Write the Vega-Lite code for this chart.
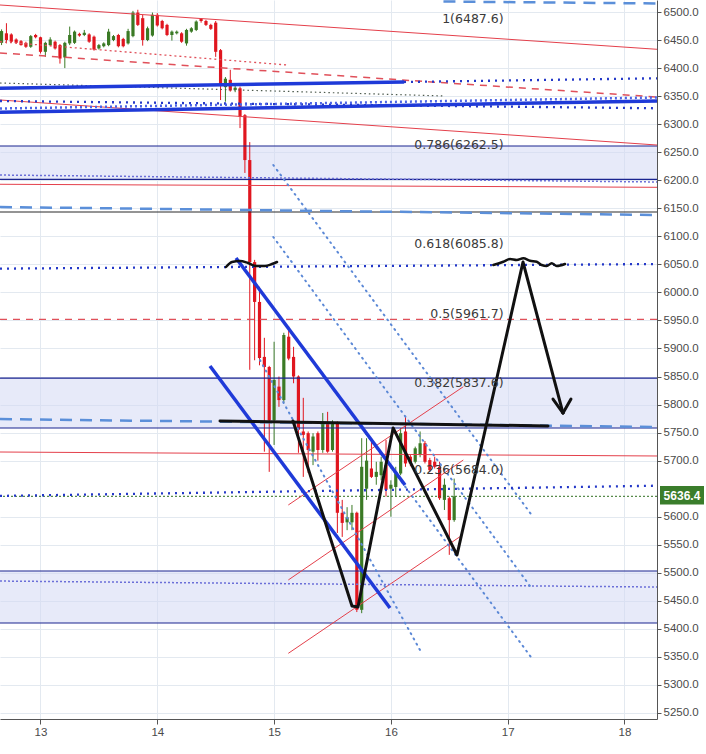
{
  "$schema": "https://vega.github.io/schema/vega-lite/v6.json",
  "width": 657,
  "height": 719,
  "autosize": {"type": "none"},
  "padding": {"left": 0, "top": 0, "right": 49, "bottom": 35},
  "background": "white",
  "config": {
    "view": {"stroke": null},
    "axis": {"labelOverlap": false, "labelFlush": false, "labelBound": false, "grid": true, "gridColor": "#e3e9f0", "tickColor": "#555", "domainColor": "#555", "labelColor": "#4a4a4a", "labelFontSize": 11.5, "labelFont": "Liberation Sans", "labelPadding": 2}
  },
  "datasets": {
    "candles": [
      {"t":12.6667,"o":6445,"h":6469,"l":6441,"c":6466},
      {"t":12.7083,"o":6462,"h":6480,"l":6444,"c":6450},
      {"t":12.75,"o":6460,"h":6462,"l":6445,"c":6447},
      {"t":12.7917,"o":6451,"h":6453,"l":6443,"c":6445},
      {"t":12.8333,"o":6448,"h":6450,"l":6440,"c":6441},
      {"t":12.875,"o":6445,"h":6447,"l":6436,"c":6438},
      {"t":12.9167,"o":6438,"h":6459,"l":6436,"c":6457},
      {"t":12.9583,"o":6459,"h":6461,"l":6453,"c":6455},
      {"t":13.0,"o":6455,"h":6456,"l":6426,"c":6429},
      {"t":13.0417,"o":6429,"h":6447,"l":6420,"c":6445},
      {"t":13.0833,"o":6441,"h":6455,"l":6439,"c":6451},
      {"t":13.125,"o":6447,"h":6449,"l":6433,"c":6435},
      {"t":13.1667,"o":6441,"h":6443,"l":6408,"c":6417},
      {"t":13.2083,"o":6419,"h":6447,"l":6400,"c":6445},
      {"t":13.25,"o":6444,"h":6474,"l":6441,"c":6459},
      {"t":13.2917,"o":6445,"h":6467,"l":6443,"c":6465},
      {"t":13.3333,"o":6461,"h":6463,"l":6456,"c":6458},
      {"t":13.375,"o":6459,"h":6468,"l":6457,"c":6463},
      {"t":13.4167,"o":6460,"h":6462,"l":6445,"c":6447},
      {"t":13.4583,"o":6456,"h":6458,"l":6431,"c":6433},
      {"t":13.5,"o":6435,"h":6443,"l":6433,"c":6441},
      {"t":13.5417,"o":6439,"h":6446,"l":6437,"c":6444},
      {"t":13.5833,"o":6441,"h":6470,"l":6439,"c":6465},
      {"t":13.625,"o":6450,"h":6459,"l":6448,"c":6457},
      {"t":13.6667,"o":6459,"h":6461,"l":6437,"c":6439},
      {"t":13.7083,"o":6452,"h":6454,"l":6437,"c":6439},
      {"t":13.75,"o":6444,"h":6470,"l":6442,"c":6466},
      {"t":13.7917,"o":6457,"h":6502,"l":6455,"c":6499},
      {"t":13.8333,"o":6499,"h":6504,"l":6475,"c":6477},
      {"t":13.875,"o":6489,"h":6495,"l":6440,"c":6450},
      {"t":13.9167,"o":6450,"h":6474,"l":6448,"c":6471},
      {"t":13.9583,"o":6458,"h":6499,"l":6456,"c":6495},
      {"t":14.0,"o":6495,"h":6498,"l":6474,"c":6476},
      {"t":14.0417,"o":6484,"h":6486,"l":6469,"c":6471},
      {"t":14.0833,"o":6477,"h":6479,"l":6457,"c":6459},
      {"t":14.125,"o":6459,"h":6467,"l":6449,"c":6465},
      {"t":14.1667,"o":6462,"h":6467,"l":6460,"c":6465},
      {"t":14.2083,"o":6462,"h":6464,"l":6445,"c":6447},
      {"t":14.25,"o":6444,"h":6470,"l":6440,"c":6468},
      {"t":14.2917,"o":6465,"h":6473,"l":6463,"c":6471},
      {"t":14.3333,"o":6468,"h":6485,"l":6466,"c":6483},
      {"t":14.375,"o":6488,"h":6489,"l":6481,"c":6484},
      {"t":14.4167,"o":6484,"h":6486,"l":6475,"c":6477},
      {"t":14.4583,"o":6477,"h":6479,"l":6468,"c":6470},
      {"t":14.5,"o":6481,"h":6484,"l":6420,"c":6429},
      {"t":14.5417,"o":6432,"h":6434,"l":6343,"c":6370},
      {"t":14.5833,"o":6366,"h":6384,"l":6340,"c":6381},
      {"t":14.625,"o":6379,"h":6397,"l":6358,"c":6360},
      {"t":14.6667,"o":6361,"h":6368,"l":6357,"c":6365},
      {"t":14.7083,"o":6364,"h":6367,"l":6293,"c":6313},
      {"t":14.75,"o":6316,"h":6318,"l":6213,"c":6236},
      {"t":14.7917,"o":6236,"h":6268,"l":5862,"c":6054},
      {"t":14.8333,"o":6054,"h":6058,"l":5879,"c":5983},
      {"t":14.875,"o":5983,"h":6010,"l":5870,"c":5883},
      {"t":14.9167,"o":5885,"h":5919,"l":5716,"c":5867},
      {"t":14.9583,"o":5867,"h":5869,"l":5680,"c":5772},
      {"t":15.0,"o":5772,"h":5912,"l":5728,"c":5844},
      {"t":15.0417,"o":5832,"h":5850,"l":5796,"c":5808},
      {"t":15.0833,"o":5808,"h":5928,"l":5803,"c":5924},
      {"t":15.125,"o":5921,"h":5939,"l":5879,"c":5882},
      {"t":15.1667,"o":5885,"h":5903,"l":5838,"c":5850},
      {"t":15.2083,"o":5850,"h":5852,"l":5714,"c":5755},
      {"t":15.25,"o":5752,"h":5812,"l":5671,"c":5746},
      {"t":15.2917,"o":5749,"h":5752,"l":5678,"c":5719},
      {"t":15.3333,"o":5716,"h":5749,"l":5692,"c":5743},
      {"t":15.375,"o":5749,"h":5752,"l":5700,"c":5719},
      {"t":15.4167,"o":5719,"h":5785,"l":5714,"c":5767},
      {"t":15.4583,"o":5767,"h":5787,"l":5714,"c":5716},
      {"t":15.5,"o":5719,"h":5772,"l":5716,"c":5767},
      {"t":15.5417,"o":5767,"h":5770,"l":5571,"c":5607},
      {"t":15.5833,"o":5607,"h":5630,"l":5564,"c":5589},
      {"t":15.625,"o":5590,"h":5617,"l":5576,"c":5599},
      {"t":15.6667,"o":5590,"h":5621,"l":5576,"c":5607},
      {"t":15.7083,"o":5607,"h":5609,"l":5430,"c":5434},
      {"t":15.75,"o":5434,"h":5740,"l":5428,"c":5689},
      {"t":15.7917,"o":5650,"h":5740,"l":5630,"c":5700},
      {"t":15.8333,"o":5686,"h":5737,"l":5669,"c":5671},
      {"t":15.875,"o":5671,"h":5698,"l":5657,"c":5680},
      {"t":15.9167,"o":5674,"h":5707,"l":5665,"c":5698},
      {"t":15.9583,"o":5692,"h":5737,"l":5636,"c":5648},
      {"t":16.0,"o":5650,"h":5665,"l":5600,"c":5657},
      {"t":16.0417,"o":5653,"h":5689,"l":5636,"c":5680},
      {"t":16.0833,"o":5677,"h":5758,"l":5674,"c":5749},
      {"t":16.125,"o":5752,"h":5778,"l":5689,"c":5695},
      {"t":16.1667,"o":5707,"h":5710,"l":5690,"c":5695},
      {"t":16.2083,"o":5698,"h":5725,"l":5695,"c":5722},
      {"t":16.25,"o":5710,"h":5752,"l":5706,"c":5731},
      {"t":16.2917,"o":5731,"h":5735,"l":5695,"c":5698},
      {"t":16.3333,"o":5701,"h":5705,"l":5680,"c":5683},
      {"t":16.375,"o":5698,"h":5707,"l":5686,"c":5689},
      {"t":16.4167,"o":5689,"h":5698,"l":5630,"c":5633},
      {"t":16.4583,"o":5630,"h":5668,"l":5612,"c":5657},
      {"t":16.5,"o":5633,"h":5636,"l":5532,"c":5594},
      {"t":16.5417,"o":5594,"h":5668,"l":5591,"c":5636.4}
    ],
    "bands": [
      {"lo":6201.7,"hi":6261.1},
      {"lo":5758.2,"hi":5847.3},
      {"lo":5410.5,"hi":5503.2}
    ],
    "navy": [{"p":6261.1},{"p":6201.7},{"p":5847.3},{"p":5758.2},{"p":5503.2},{"p":5410.5}],
    "blackRule": [{"p":6143.4}],
    "redDashRule": [{"p":5952}],
    "lastRule": [{"p":5636.4}],
    "redThin": [
      {"id":"top","t":12.6533,"p":6512.5},{"id":"top","t":18.2783,"p":6433.5},
      {"id":"bot","t":12.6533,"p":6343.1},{"id":"bot","t":18.2783,"p":6262.8},
      {"id":"a","t":12.6533,"p":6192.8},{"id":"a","t":18.2783,"p":6187.4},
      {"id":"m","t":12.6533,"p":5715.4},{"id":"m","t":18.2783,"p":5708.3},
      {"id":"r1","t":15.1216,"p":5620.9},{"id":"r1","t":16.6199,"p":5831.8},
      {"id":"r2","t":15.1216,"p":5487.2},{"id":"r2","t":16.6199,"p":5701.1},
      {"id":"r3","t":15.1216,"p":5356.4},{"id":"r3","t":16.5916,"p":5564.4}
    ],
    "redDash": [{"id":"d","t":12.6533,"p":6426.9},{"id":"d","t":18.2783,"p":6348.4}],
    "redDot": [{"id":"d","t":12.6533,"p":6447.0},{"id":"d","t":15.1105,"p":6405.5}],
    "blueThick": [
      {"id":"b1","t":14.6739,"p":6061.3},{"id":"b1","t":16.1208,"p":5656.5},
      {"id":"b2","t":14.4512,"p":5868.7},{"id":"b2","t":15.9923,"p":5437.2},
      {"id":"h1","t":12.6533,"p":6363.9},{"id":"h1","t":16.1122,"p":6375.2},
      {"id":"h2","t":12.6533,"p":6321.1},{"id":"h2","t":18.2783,"p":6341.3}
    ],
    "blueTicks": [{"id":"k","t":12.6533,"p":6327.9},{"id":"k","t":18.2783,"p":6347.5}],
    "blueDot": [
      {"id":"c","t":16.1122,"p":6375.2},{"id":"c","t":18.2783,"p":6381.8},
      {"id":"f","t":12.6533,"p":6042.4},{"id":"f","t":18.2783,"p":6050.6},
      {"id":"g","t":12.6533,"p":5637.1},{"id":"g","t":18.2783,"p":5655.3},
      {"id":"k","t":12.6533,"p":6341.3},{"id":"k","t":18.2783,"p":6328.3}
    ],
    "purpleDot": [
      {"id":"a","t":12.6533,"p":6209.3},{"id":"a","t":18.2783,"p":6196.9},
      {"id":"c","t":12.6533,"p":5485.3},{"id":"c","t":18.2783,"p":5474.6}
    ],
    "darkDot": [{"id":"d","t":12.6533,"p":6373.4},{"id":"d","t":16.4632,"p":6350.2}],
    "lightDash": [
      {"id":"top","t":16.45,"p":6518.7},{"id":"top","t":18.2783,"p":6515.2},
      {"id":"m","t":12.6533,"p":6152.3},{"id":"m","t":18.2783,"p":6138.0},
      {"id":"b","t":12.6533,"p":5774.2},{"id":"b","t":18.2783,"p":5760.0}
    ],
    "lightDot": [
      {"id":"d1","t":14.9932,"p":6227.2},{"id":"d1","t":17.2055,"p":5603.0},
      {"id":"d2","t":14.9932,"p":6098.8},{"id":"d2","t":17.191,"p":5476.4},
      {"id":"d3","t":14.8793,"p":5879.4},{"id":"d3","t":16.2492,"p":5362.3},
      {"id":"d4","t":14.9932,"p":5972.2},{"id":"d4","t":17.2055,"p":5348.0}
    ],
    "blackPen": [
      {"id":"h","t":14.5369,"p":5770.7},{"id":"h","t":17.3451,"p":5761.8},
      {"id":"z","t":15.1619,"p":5770.7},{"id":"z","t":15.667,"p":5440.8},{"id":"z","t":15.7184,"p":5439.0},{"id":"z","t":16.019,"p":5758.2},{"id":"z","t":16.566,"p":5531.7},{"id":"z","t":17.131,"p":6054.2},{"id":"z","t":17.4735,"p":5784.9},
      {"id":"w1","t":17.3879,"p":5809.9},{"id":"w1","t":17.4735,"p":5784.9},
      {"id":"w2","t":17.4735,"p":5784.9},{"id":"w2","t":17.542,"p":5809.9}
    ],
    "squiggle": [
      {"id":"s1","t":14.5883,"p":6045.3},{"id":"s1","t":14.6396,"p":6054.2},{"id":"s1","t":14.7081,"p":6056.0},{"id":"s1","t":14.7766,"p":6052.4},{"id":"s1","t":14.8451,"p":6047.1},{"id":"s1","t":14.9222,"p":6047.1},{"id":"s1","t":14.9821,"p":6050.6},{"id":"s1","t":15.0249,"p":6054.2},
      {"id":"s2","t":16.8768,"p":6048.9},{"id":"s2","t":16.9624,"p":6054.7},{"id":"s2","t":17.0198,"p":6059.5},{"id":"s2","t":17.0772,"p":6057.8},{"id":"s2","t":17.1337,"p":6060.8},{"id":"s2","t":17.191,"p":6056.5},{"id":"s2","t":17.2484,"p":6054.7},{"id":"s2","t":17.2912,"p":6048.9},{"id":"s2","t":17.334,"p":6047.1},{"id":"s2","t":17.3768,"p":6051.9},{"id":"s2","t":17.4196,"p":6047.1},{"id":"s2","t":17.4906,"p":6050.6}
    ],
    "fib": [
      {"label":"1(6487.6)","p":6487.6},
      {"label":"0.786(6262.5)","p":6262.5},
      {"label":"0.618(6085.8)","p":6085.8},
      {"label":"0.5(5961.7)","p":5961.7},
      {"label":"0.382(5837.6)","p":5837.6},
      {"label":"0.236(5684.0)","p":5684.0}
    ],
    "last": [{"p":5636.4}]
  },
  "layer": [
    {
      "data": {"name": "bands"},
      "mark": {"type": "rect", "fill": "#d4d8f4", "opacity": 0.55},
      "encoding": {
        "y": {"field": "lo", "type": "quantitative", "scale": {"domain": [5239.3, 6521.4], "nice": false, "zero": false}, "axis": {"orient": "right", "values": [5250,5300,5350,5400,5450,5500,5550,5600,5700,5750,5800,5850,5900,5950,6000,6050,6100,6150,6200,6250,6300,6350,6400,6450,6500], "format": ".1f", "title": null, "tickSize": 4, "labelOverlap": false}},
        "y2": {"field": "hi"}
      }
    },
    {
      "data": {"name": "candles"},
      "mark": {"type": "rule", "strokeWidth": 1},
      "encoding": {
        "x": {"field": "t", "type": "quantitative", "scale": {"domain": [12.6533, 18.2783], "nice": false, "zero": false}, "axis": {"orient": "bottom", "values": [13,14,15,16,17,18], "format": "d", "title": null, "tickSize": 5, "labelOverlap": false}},
        "y": {"field": "l", "type": "quantitative", "scale": {"domain": [5239.3, 6521.4], "nice": false, "zero": false}, "axis": {"orient": "right", "values": [5250,5300,5350,5400,5450,5500,5550,5600,5700,5750,5800,5850,5900,5950,6000,6050,6100,6150,6200,6250,6300,6350,6400,6450,6500], "format": ".1f", "title": null, "tickSize": 4, "labelOverlap": false}},
        "y2": {"field": "h"},
        "color": {"condition": {"test": "datum.c >= datum.o", "value": "#3b7a25"}, "value": "#e0161f"}
      }
    },
    {
      "data": {"name": "candles"},
      "mark": {"type": "rule", "strokeWidth": 3.2},
      "encoding": {
        "x": {"field": "t", "type": "quantitative", "axis": {"orient": "bottom", "values": [13,14,15,16,17,18], "format": "d", "title": null, "tickSize": 5, "labelOverlap": false}},
        "y": {"field": "o", "type": "quantitative", "axis": {"orient": "right", "values": [5250,5300,5350,5400,5450,5500,5550,5600,5700,5750,5800,5850,5900,5950,6000,6050,6100,6150,6200,6250,6300,6350,6400,6450,6500], "format": ".1f", "title": null, "tickSize": 4, "labelOverlap": false}},
        "y2": {"field": "c"},
        "color": {"condition": {"test": "datum.c >= datum.o", "value": "#3b7a25"}, "value": "#e0161f"}
      }
    },
    {
      "data": {"name": "navy"},
      "mark": {"type": "rule", "color": "#1b2590", "strokeWidth": 1.2},
      "encoding": {"y": {"field": "p", "type": "quantitative", "axis": {"orient": "right", "values": [5250,5300,5350,5400,5450,5500,5550,5600,5700,5750,5800,5850,5900,5950,6000,6050,6100,6150,6200,6250,6300,6350,6400,6450,6500], "format": ".1f", "title": null, "tickSize": 4, "labelOverlap": false}}}
    },
    {
      "data": {"name": "blackRule"},
      "mark": {"type": "rule", "color": "#2a2a2a", "strokeWidth": 1.2},
      "encoding": {"y": {"field": "p", "type": "quantitative", "axis": {"orient": "right", "values": [5250,5300,5350,5400,5450,5500,5550,5600,5700,5750,5800,5850,5900,5950,6000,6050,6100,6150,6200,6250,6300,6350,6400,6450,6500], "format": ".1f", "title": null, "tickSize": 4, "labelOverlap": false}}}
    },
    {
      "data": {"name": "redDashRule"},
      "mark": {"type": "rule", "color": "#e0505a", "strokeWidth": 1.3, "strokeDash": [7, 6]},
      "encoding": {"y": {"field": "p", "type": "quantitative", "axis": {"orient": "right", "values": [5250,5300,5350,5400,5450,5500,5550,5600,5700,5750,5800,5850,5900,5950,6000,6050,6100,6150,6200,6250,6300,6350,6400,6450,6500], "format": ".1f", "title": null, "tickSize": 4, "labelOverlap": false}}}
    },
    {
      "data": {"name": "lastRule"},
      "mark": {"type": "rule", "color": "#2f6e1f", "strokeWidth": 1, "strokeDash": [2, 2]},
      "encoding": {"y": {"field": "p", "type": "quantitative", "axis": {"orient": "right", "values": [5250,5300,5350,5400,5450,5500,5550,5600,5700,5750,5800,5850,5900,5950,6000,6050,6100,6150,6200,6250,6300,6350,6400,6450,6500], "format": ".1f", "title": null, "tickSize": 4, "labelOverlap": false}}}
    },
    {
      "data": {"name": "redThin"},
      "mark": {"type": "line", "color": "#e4404b", "strokeWidth": 1},
      "encoding": {"x": {"field": "t", "type": "quantitative", "axis": {"orient": "bottom", "values": [13,14,15,16,17,18], "format": "d", "title": null, "tickSize": 5, "labelOverlap": false}}, "y": {"field": "p", "type": "quantitative", "axis": {"orient": "right", "values": [5250,5300,5350,5400,5450,5500,5550,5600,5700,5750,5800,5850,5900,5950,6000,6050,6100,6150,6200,6250,6300,6350,6400,6450,6500], "format": ".1f", "title": null, "tickSize": 4, "labelOverlap": false}}, "detail": {"field": "id"}}
    },
    {
      "data": {"name": "redDash"},
      "mark": {"type": "line", "color": "#e0505a", "strokeWidth": 1.5, "strokeDash": [7, 6]},
      "encoding": {"x": {"field": "t", "type": "quantitative", "axis": {"orient": "bottom", "values": [13,14,15,16,17,18], "format": "d", "title": null, "tickSize": 5, "labelOverlap": false}}, "y": {"field": "p", "type": "quantitative", "axis": {"orient": "right", "values": [5250,5300,5350,5400,5450,5500,5550,5600,5700,5750,5800,5850,5900,5950,6000,6050,6100,6150,6200,6250,6300,6350,6400,6450,6500], "format": ".1f", "title": null, "tickSize": 4, "labelOverlap": false}}, "detail": {"field": "id"}}
    },
    {
      "data": {"name": "redDot"},
      "mark": {"type": "line", "color": "#e0505a", "strokeWidth": 1.3, "strokeDash": [2, 3]},
      "encoding": {"x": {"field": "t", "type": "quantitative", "axis": {"orient": "bottom", "values": [13,14,15,16,17,18], "format": "d", "title": null, "tickSize": 5, "labelOverlap": false}}, "y": {"field": "p", "type": "quantitative", "axis": {"orient": "right", "values": [5250,5300,5350,5400,5450,5500,5550,5600,5700,5750,5800,5850,5900,5950,6000,6050,6100,6150,6200,6250,6300,6350,6400,6450,6500], "format": ".1f", "title": null, "tickSize": 4, "labelOverlap": false}}, "detail": {"field": "id"}}
    },
    {
      "data": {"name": "darkDot"},
      "mark": {"type": "line", "color": "#4d5a4d", "strokeWidth": 1.2, "strokeDash": [1.5, 3]},
      "encoding": {"x": {"field": "t", "type": "quantitative", "axis": {"orient": "bottom", "values": [13,14,15,16,17,18], "format": "d", "title": null, "tickSize": 5, "labelOverlap": false}}, "y": {"field": "p", "type": "quantitative", "axis": {"orient": "right", "values": [5250,5300,5350,5400,5450,5500,5550,5600,5700,5750,5800,5850,5900,5950,6000,6050,6100,6150,6200,6250,6300,6350,6400,6450,6500], "format": ".1f", "title": null, "tickSize": 4, "labelOverlap": false}}, "detail": {"field": "id"}}
    },
    {
      "data": {"name": "purpleDot"},
      "mark": {"type": "line", "color": "#6b6fd8", "strokeWidth": 1.5, "strokeDash": [2, 2]},
      "encoding": {"x": {"field": "t", "type": "quantitative", "axis": {"orient": "bottom", "values": [13,14,15,16,17,18], "format": "d", "title": null, "tickSize": 5, "labelOverlap": false}}, "y": {"field": "p", "type": "quantitative", "axis": {"orient": "right", "values": [5250,5300,5350,5400,5450,5500,5550,5600,5700,5750,5800,5850,5900,5950,6000,6050,6100,6150,6200,6250,6300,6350,6400,6450,6500], "format": ".1f", "title": null, "tickSize": 4, "labelOverlap": false}}, "detail": {"field": "id"}}
    },
    {
      "data": {"name": "lightDash"},
      "mark": {"type": "line", "color": "#5b8fd9", "strokeWidth": 2.5, "strokeDash": [12, 8]},
      "encoding": {"x": {"field": "t", "type": "quantitative", "axis": {"orient": "bottom", "values": [13,14,15,16,17,18], "format": "d", "title": null, "tickSize": 5, "labelOverlap": false}}, "y": {"field": "p", "type": "quantitative", "axis": {"orient": "right", "values": [5250,5300,5350,5400,5450,5500,5550,5600,5700,5750,5800,5850,5900,5950,6000,6050,6100,6150,6200,6250,6300,6350,6400,6450,6500], "format": ".1f", "title": null, "tickSize": 4, "labelOverlap": false}}, "detail": {"field": "id"}}
    },
    {
      "data": {"name": "lightDot"},
      "mark": {"type": "line", "color": "#5b88d6", "strokeWidth": 2, "strokeDash": [1, 5], "strokeCap": "round"},
      "encoding": {"x": {"field": "t", "type": "quantitative", "axis": {"orient": "bottom", "values": [13,14,15,16,17,18], "format": "d", "title": null, "tickSize": 5, "labelOverlap": false}}, "y": {"field": "p", "type": "quantitative", "axis": {"orient": "right", "values": [5250,5300,5350,5400,5450,5500,5550,5600,5700,5750,5800,5850,5900,5950,6000,6050,6100,6150,6200,6250,6300,6350,6400,6450,6500], "format": ".1f", "title": null, "tickSize": 4, "labelOverlap": false}}, "detail": {"field": "id"}}
    },
    {
      "data": {"name": "blueDot"},
      "mark": {"type": "line", "color": "#2438c8", "strokeWidth": 2.3, "strokeDash": [2, 5]},
      "encoding": {"x": {"field": "t", "type": "quantitative", "axis": {"orient": "bottom", "values": [13,14,15,16,17,18], "format": "d", "title": null, "tickSize": 5, "labelOverlap": false}}, "y": {"field": "p", "type": "quantitative", "axis": {"orient": "right", "values": [5250,5300,5350,5400,5450,5500,5550,5600,5700,5750,5800,5850,5900,5950,6000,6050,6100,6150,6200,6250,6300,6350,6400,6450,6500], "format": ".1f", "title": null, "tickSize": 4, "labelOverlap": false}}, "detail": {"field": "id"}}
    },
    {
      "data": {"name": "blueThick"},
      "mark": {"type": "line", "color": "#1f3ad8", "strokeWidth": 3.5},
      "encoding": {"x": {"field": "t", "type": "quantitative", "axis": {"orient": "bottom", "values": [13,14,15,16,17,18], "format": "d", "title": null, "tickSize": 5, "labelOverlap": false}}, "y": {"field": "p", "type": "quantitative", "axis": {"orient": "right", "values": [5250,5300,5350,5400,5450,5500,5550,5600,5700,5750,5800,5850,5900,5950,6000,6050,6100,6150,6200,6250,6300,6350,6400,6450,6500], "format": ".1f", "title": null, "tickSize": 4, "labelOverlap": false}}, "detail": {"field": "id"}}
    },
    {
      "data": {"name": "blueTicks"},
      "mark": {"type": "line", "color": "#4a63e6", "strokeWidth": 2.5, "strokeDash": [2, 3]},
      "encoding": {"x": {"field": "t", "type": "quantitative", "axis": {"orient": "bottom", "values": [13,14,15,16,17,18], "format": "d", "title": null, "tickSize": 5, "labelOverlap": false}}, "y": {"field": "p", "type": "quantitative", "axis": {"orient": "right", "values": [5250,5300,5350,5400,5450,5500,5550,5600,5700,5750,5800,5850,5900,5950,6000,6050,6100,6150,6200,6250,6300,6350,6400,6450,6500], "format": ".1f", "title": null, "tickSize": 4, "labelOverlap": false}}, "detail": {"field": "id"}}
    },
    {
      "data": {"name": "blackPen"},
      "mark": {"type": "line", "color": "#111111", "strokeWidth": 3, "strokeCap": "round", "strokeJoin": "round"},
      "encoding": {"x": {"field": "t", "type": "quantitative", "axis": {"orient": "bottom", "values": [13,14,15,16,17,18], "format": "d", "title": null, "tickSize": 5, "labelOverlap": false}}, "y": {"field": "p", "type": "quantitative", "axis": {"orient": "right", "values": [5250,5300,5350,5400,5450,5500,5550,5600,5700,5750,5800,5850,5900,5950,6000,6050,6100,6150,6200,6250,6300,6350,6400,6450,6500], "format": ".1f", "title": null, "tickSize": 4, "labelOverlap": false}}, "detail": {"field": "id"}}
    },
    {
      "data": {"name": "squiggle"},
      "mark": {"type": "line", "color": "#111111", "strokeWidth": 2.5, "strokeCap": "round", "interpolate": "monotone"},
      "encoding": {"x": {"field": "t", "type": "quantitative", "axis": {"orient": "bottom", "values": [13,14,15,16,17,18], "format": "d", "title": null, "tickSize": 5, "labelOverlap": false}}, "y": {"field": "p", "type": "quantitative", "axis": {"orient": "right", "values": [5250,5300,5350,5400,5450,5500,5550,5600,5700,5750,5800,5850,5900,5950,6000,6050,6100,6150,6200,6250,6300,6350,6400,6450,6500], "format": ".1f", "title": null, "tickSize": 4, "labelOverlap": false}}, "detail": {"field": "id"}}
    },
    {
      "data": {"name": "fib"},
      "mark": {"type": "text", "align": "right", "baseline": "middle", "font": "DejaVu Sans", "fontSize": 12.5, "color": "#3a3a3a"},
      "encoding": {"x": {"datum": 16.965, "type": "quantitative", "axis": {"orient": "bottom", "values": [13,14,15,16,17,18], "format": "d", "title": null, "tickSize": 5, "labelOverlap": false}}, "y": {"field": "p", "type": "quantitative", "axis": {"orient": "right", "values": [5250,5300,5350,5400,5450,5500,5550,5600,5700,5750,5800,5850,5900,5950,6000,6050,6100,6150,6200,6250,6300,6350,6400,6450,6500], "format": ".1f", "title": null, "tickSize": 4, "labelOverlap": false}}, "text": {"field": "label"}}
    },
    {
      "data": {"name": "last"},
      "mark": {"type": "rect", "color": "#3a7d2b"},
      "encoding": {"x": {"datum": 18.304, "type": "quantitative", "axis": {"orient": "bottom", "values": [13,14,15,16,17,18], "format": "d", "title": null, "tickSize": 5, "labelOverlap": false}}, "x2": {"datum": 18.6807}, "y": {"datum": 5654.7, "type": "quantitative", "axis": {"orient": "right", "values": [5250,5300,5350,5400,5450,5500,5550,5600,5700,5750,5800,5850,5900,5950,6000,6050,6100,6150,6200,6250,6300,6350,6400,6450,6500], "format": ".1f", "title": null, "tickSize": 4, "labelOverlap": false}}, "y2": {"datum": 5622.0}}
    },
    {
      "data": {"name": "last"},
      "mark": {"type": "text", "align": "center", "baseline": "middle", "font": "Liberation Sans", "fontSize": 12, "fontWeight": "bold", "color": "white"},
      "encoding": {"x": {"datum": 18.492, "type": "quantitative", "axis": {"orient": "bottom", "values": [13,14,15,16,17,18], "format": "d", "title": null, "tickSize": 5, "labelOverlap": false}}, "y": {"field": "p", "type": "quantitative", "axis": {"orient": "right", "values": [5250,5300,5350,5400,5450,5500,5550,5600,5700,5750,5800,5850,5900,5950,6000,6050,6100,6150,6200,6250,6300,6350,6400,6450,6500], "format": ".1f", "title": null, "tickSize": 4, "labelOverlap": false}}, "text": {"field": "p", "format": ".1f"}}
    }
  ]
}
